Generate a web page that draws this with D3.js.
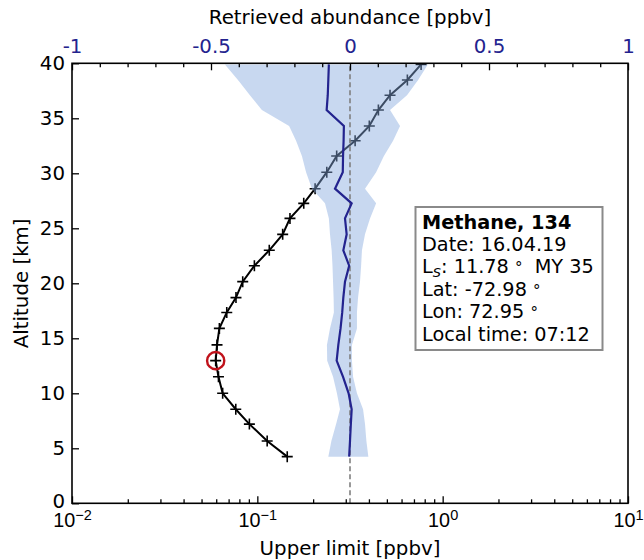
<!DOCTYPE html>
<html>
<head>
<meta charset="utf-8">
<script src="https://cdn.jsdelivr.net/npm/d3@7"></script>
<style>
  body { margin: 0; background: #fff; }
  svg { display: block; font-family: "DejaVu Sans", sans-serif; }
</style>
</head>
<body>
<svg id="chart" width="644" height="560"></svg>
<script>
// ---- data ----
const altitudes = [4.24, 5.66, 7.2, 8.55, 10.0, 11.5, 12.97, 14.4, 15.9, 17.35, 18.7, 20.15, 21.6, 23.0, 24.45, 25.9, 27.27, 28.6, 30.1, 31.57, 32.96, 34.3, 35.75, 37.1, 38.48, 39.9];
const upperLimit = [0.145, 0.113, 0.0906, 0.0765, 0.065, 0.0617, 0.0596, 0.0606, 0.0624, 0.0684, 0.0767, 0.0834, 0.0964, 0.116, 0.137, 0.150, 0.178, 0.205, 0.237, 0.268, 0.337, 0.402, 0.450, 0.520, 0.645, 0.765];
const retrieved = [-0.003, 0.000, 0.003, 0.006, -0.005, -0.025, -0.048, -0.042, -0.034, -0.028, -0.024, -0.018, -0.003, -0.024, -0.012, -0.018, 0.006, -0.054, -0.026, -0.025, -0.023, -0.022, -0.084, -0.080, -0.078, -0.076];
const bandLow = [-0.078, -0.067, -0.050, -0.036, -0.047, -0.061, -0.082, -0.083, -0.072, -0.058, -0.059, -0.061, -0.063, -0.066, -0.072, -0.076, -0.090, -0.137, -0.158, -0.173, -0.194, -0.219, -0.317, -0.360, -0.403, -0.450];
const bandHigh = [0.066, 0.059, 0.054, 0.047, 0.025, 0.011, 0.007, 0.007, 0.025, 0.025, 0.029, 0.036, 0.040, 0.043, 0.054, 0.072, 0.094, 0.054, 0.094, 0.122, 0.155, 0.180, 0.144, 0.205, 0.245, 0.280];
const highlightIndex = 6;
const yTicks = [0, 5, 10, 15, 20, 25, 30, 35, 40];
const bottomMajor = [0.01, 0.1, 1, 10];
const bottomMajorLabels = [["10", "\u22122"], ["10", "\u22121"], ["10", "0"], ["10", "1"]];
const topMajor = [-1, -0.5, 0, 0.5, 1];
const topMajorLabels = ["-1", "-0.5", "0", "0.5", "1"];
const infoTitle = "Methane, 134";
const infoDate = "Date: 16.04.19";
const infoLs = "11.78";
const infoMY = "MY 35";
const infoLat = "Lat: -72.98";
const infoLon = "Lon: 72.95";
const infoTime = "Local time: 07:12";

// ---- layout ----
const L = 72, R = 628, T = 63.3, B = 503.3;
const svg = d3.select("#chart");
const x = d3.scaleLog().domain([0.01, 10]).range([L, R]);
const xt = d3.scaleLinear().domain([-1, 1]).range([L, R]);
const y = d3.scaleLinear().domain([0, 40]).range([B, T]);
const FS = 19.8;
const navy = "#23238e";

svg.append("defs").append("clipPath").attr("id", "clip")
  .append("rect").attr("x", L).attr("y", T).attr("width", R - L).attr("height", B - T);

const plot = svg.append("g").attr("clip-path", "url(#clip)");

// upper limit line with + markers
const pts = altitudes.map((a, i) => [x(upperLimit[i]), y(a)]);
plot.append("path").attr("d", d3.line()(pts))
  .attr("fill", "none").attr("stroke", "#000").attr("stroke-width", 2);
plot.selectAll(".mk").data(pts).enter().append("path")
  .attr("d", d => `M${d[0]-5.5},${d[1]}H${d[0]+5.5}M${d[0]},${d[1]-5.5}V${d[1]+5.5}`)
  .attr("stroke", "#000").attr("stroke-width", 1.6);

// band (retrieval error)
const area = d3.area()
  .y((d, i) => y(altitudes[i]))
  .x0((d, i) => xt(bandLow[i]))
  .x1((d, i) => xt(bandHigh[i]));
plot.append("path").attr("d", area(altitudes))
  .attr("fill", "rgb(133,169,222)").attr("fill-opacity", 0.45);

// zero dashed line
plot.append("line").attr("x1", xt(0)).attr("x2", xt(0)).attr("y1", B).attr("y2", T)
  .attr("stroke", "#7f7f7f").attr("stroke-width", 1.6).attr("stroke-dasharray", "5,3");

// retrieved line
plot.append("path")
  .attr("d", d3.line()(altitudes.map((a, i) => [xt(retrieved[i]), y(a)])))
  .attr("fill", "none").attr("stroke", navy).attr("stroke-width", 2.2);

// highlight circle
svg.append("circle")
  .attr("cx", x(upperLimit[highlightIndex])).attr("cy", y(altitudes[highlightIndex]))
  .attr("r", 8.6).attr("fill", "none").attr("stroke", "#c0121b").attr("stroke-width", 2.4);

// ---- axes ----
const tickStyle = g => {
  g.select(".domain").remove();
  g.selectAll("line").attr("stroke", "#000").attr("stroke-width", 1.3);
  g.selectAll("text").attr("font-size", FS).attr("font-family", "DejaVu Sans").attr("fill", "#000");
};

// left
const leftAxis = svg.append("g").attr("transform", `translate(${L},0)`)
  .call(d3.axisLeft(y).tickValues(yTicks).tickSize(-7).tickPadding(7).tickFormat(d3.format("d")))
  .call(tickStyle);
leftAxis.selectAll(".tick text").attr("dy", (d) => d === 0 ? "0.2em" : "0.32em");

// bottom minor
const minors = [];
[0.01, 0.1, 1].forEach(dec => { for (let k = 2; k <= 9; k++) minors.push(dec * k); });
svg.append("g").attr("transform", `translate(0,${B})`)
  .call(d3.axisBottom(x).tickValues(minors).tickSize(-4).tickFormat(""))
  .call(tickStyle);
const botAxis = svg.append("g").attr("transform", `translate(0,${B})`)
  .call(d3.axisBottom(x).tickValues(bottomMajor).tickSize(-7).tickPadding(8).tickFormat(""))
  .call(tickStyle);
botAxis.selectAll(".tick").each(function(d, i) {
  const t = d3.select(this).append("text").attr("y", 24).attr("text-anchor", "middle")
    .attr("font-size", FS).attr("fill", "#000").attr("x", 0);
  t.append("tspan").text(bottomMajorLabels[i][0]);
  t.append("tspan").attr("dy", -7).attr("font-size", 14.5).text(bottomMajorLabels[i][1]);
});

// top minor
const topMinor = d3.range(-9, 10).map(k => k / 10).filter(v => Math.abs(v * 2 - Math.round(v * 2)) > 1e-9);
svg.append("g").attr("transform", `translate(0,${T})`)
  .call(d3.axisTop(xt).tickValues(topMinor).tickSize(-4).tickFormat(""))
  .call(tickStyle);
const topAxis = svg.append("g").attr("transform", `translate(0,${T})`)
  .call(d3.axisTop(xt).tickValues(topMajor).tickSize(-7).tickPadding(10)
    .tickFormat((d, i) => topMajorLabels[i]))
  .call(tickStyle);
topAxis.selectAll("text").attr("fill", navy);

// frame
svg.append("rect").attr("x", L).attr("y", T).attr("width", R - L).attr("height", B - T)
  .attr("fill", "none").attr("stroke", "#000").attr("stroke-width", 1.6);

// axis titles
svg.append("text").attr("x", 350).attr("y", 24).attr("text-anchor", "middle")
  .attr("font-size", FS).text("Retrieved abundance [ppbv]");
svg.append("text").attr("x", 350).attr("y", 555).attr("text-anchor", "middle")
  .attr("font-size", FS).text("Upper limit [ppbv]");
svg.append("text").attr("transform", `translate(28,${(T + B) / 2}) rotate(-90)`)
  .attr("text-anchor", "middle").attr("font-size", FS).text("Altitude [km]");

// info box
const bx = 415.5, by = 207, bw = 187, bh = 143;
svg.append("rect").attr("x", bx).attr("y", by).attr("width", bw).attr("height", bh)
  .attr("fill", "#fff").attr("stroke", "#8a8a8a").attr("stroke-width", 2);
const tx = 422, lh = 22.4, ty0 = 228.5;
const IFS = 19.3;
const info = svg.append("g").attr("font-size", IFS).attr("fill", "#000");
info.append("text").attr("x", tx).attr("y", ty0).attr("font-weight", "bold").text(infoTitle);
info.append("text").attr("x", tx).attr("y", ty0 + lh).text(infoDate);
const ls = info.append("text").attr("x", tx).attr("y", ty0 + 2 * lh);
ls.append("tspan").text("L");
ls.append("tspan").attr("font-size", 13).attr("font-style", "italic").attr("dy", 4).text("S");
ls.append("tspan").attr("dy", -4).text(`: ${infoLs} `);
ls.append("tspan").attr("font-size", 15).text("\u00b0");
ls.append("tspan").text(`\u00a0 ${infoMY}`);
const lat = info.append("text").attr("x", tx).attr("y", ty0 + 3 * lh);
lat.append("tspan").text(infoLat + " ");
lat.append("tspan").attr("font-size", 15).text("\u00b0");
const lon = info.append("text").attr("x", tx).attr("y", ty0 + 4 * lh);
lon.append("tspan").text(infoLon + " ");
lon.append("tspan").attr("font-size", 15).text("\u00b0");
info.append("text").attr("x", tx).attr("y", ty0 + 5 * lh).text(infoTime);
</script>
</body>
</html>
